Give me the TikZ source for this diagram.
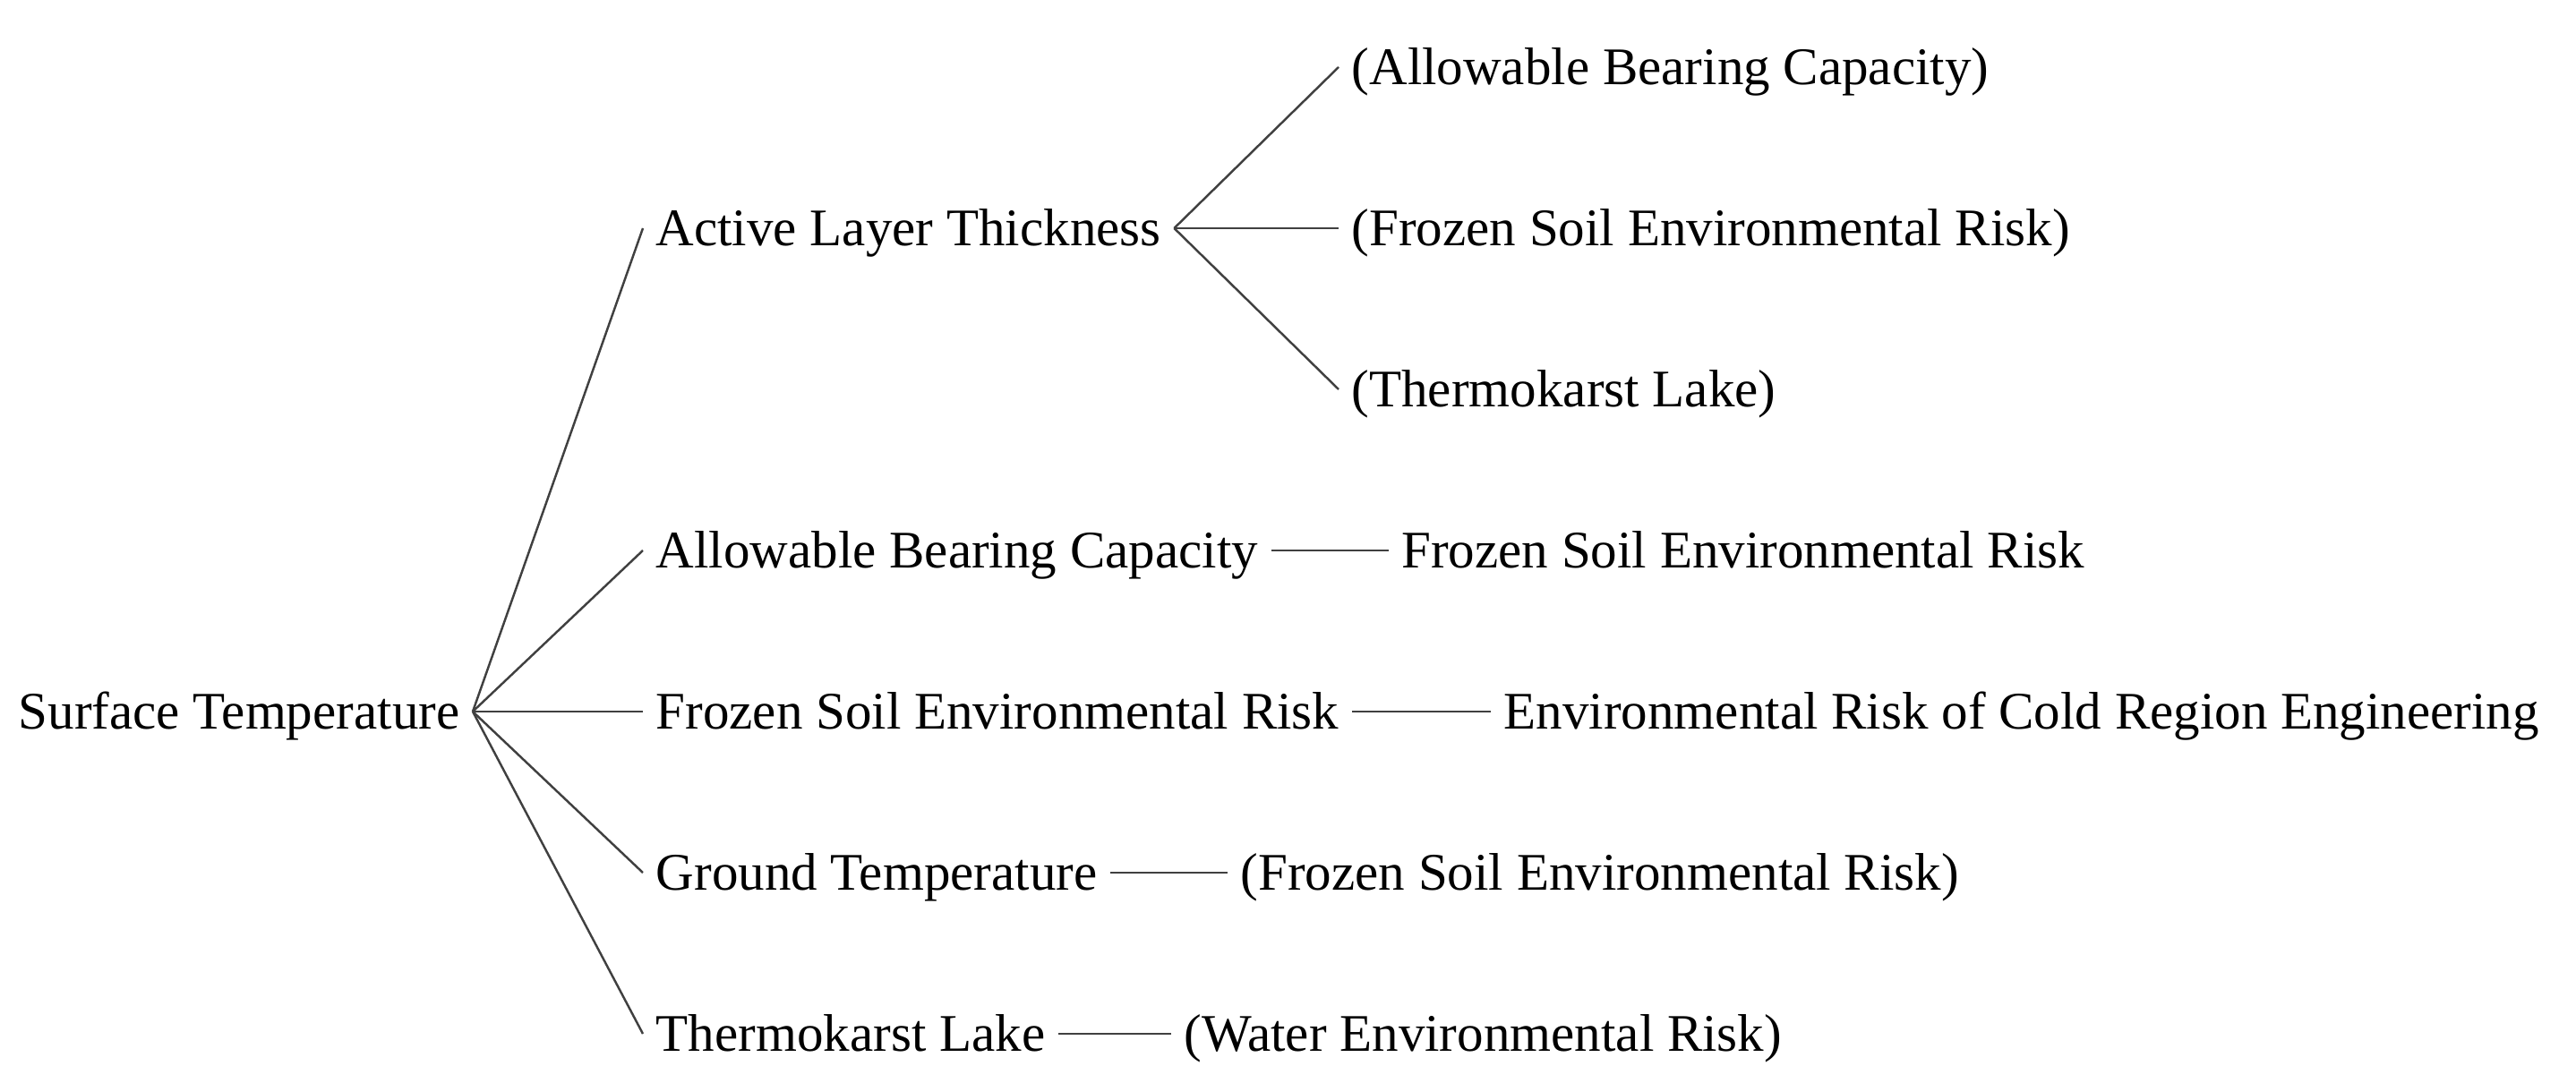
\documentclass[tikz,border=0pt]{standalone}
\usepackage{fontspec}
\setmainfont{Liberation Serif}
\usetikzlibrary{positioning}

\tikzset{
  term/.style={inner sep=0.14cm, text height=11.1pt, text depth=0pt,
    font=\fontsize{16.8pt}{20pt}\selectfont},
  link/.style={draw=black!75, line width=0.7pt},
}

\begin{document}
\begin{tikzpicture}
\useasboundingbox (0,0) rectangle (28.77,12.09);

\node[term, anchor=east] (st) at (5.28,4.14) {Surface Temperature};

\node[term, anchor=west] (alt) at (7.18,9.54) {Active Layer Thickness};
\node[term, anchor=west] (abc) at (7.18,5.94) {Allowable Bearing Capacity};
\node[term, anchor=west] (fser) at (7.18,4.14) {Frozen Soil Environmental Risk};
\node[term, anchor=west] (gt) at (7.18,2.34) {Ground Temperature};
\node[term, anchor=west] (tl) at (7.18,0.54) {Thermokarst Lake};

% what active layer thickness leads to
\node[term, anchor=west] (altabc) at (14.95,11.34) {(Allowable Bearing Capacity)};
\node[term, anchor=west] (altfser) at (14.95,9.54) {(Frozen Soil Environmental Risk)};
\node[term, anchor=west] (alttl) at (14.95,7.74) {(Thermokarst Lake)};

\node[term, right=1.31cm of abc] (abcfser) {Frozen Soil Environmental Risk};
\node[term, right=1.55cm of fser] (ercre) {Environmental Risk of Cold Region Engineering};
\node[term, right=1.31cm of gt] (gtfser) {(Frozen Soil Environmental Risk)};
\node[term, right=1.26cm of tl] (tlwer) {(Water Environmental Risk)};

\foreach \n in {alt,abc,fser,gt,tl} {
	\draw[link] (st.east) -- (\n.west);
}
\foreach \n in {altabc,altfser,alttl} {
	\draw[link] (alt.east) -- (\n.west);
}

\draw[link] (abc) -- (abcfser);
\draw[link] (fser) -- (ercre);
\draw[link] (gt) -- (gtfser);
\draw[link] (tl) -- (tlwer);

\end{tikzpicture}
\end{document}
